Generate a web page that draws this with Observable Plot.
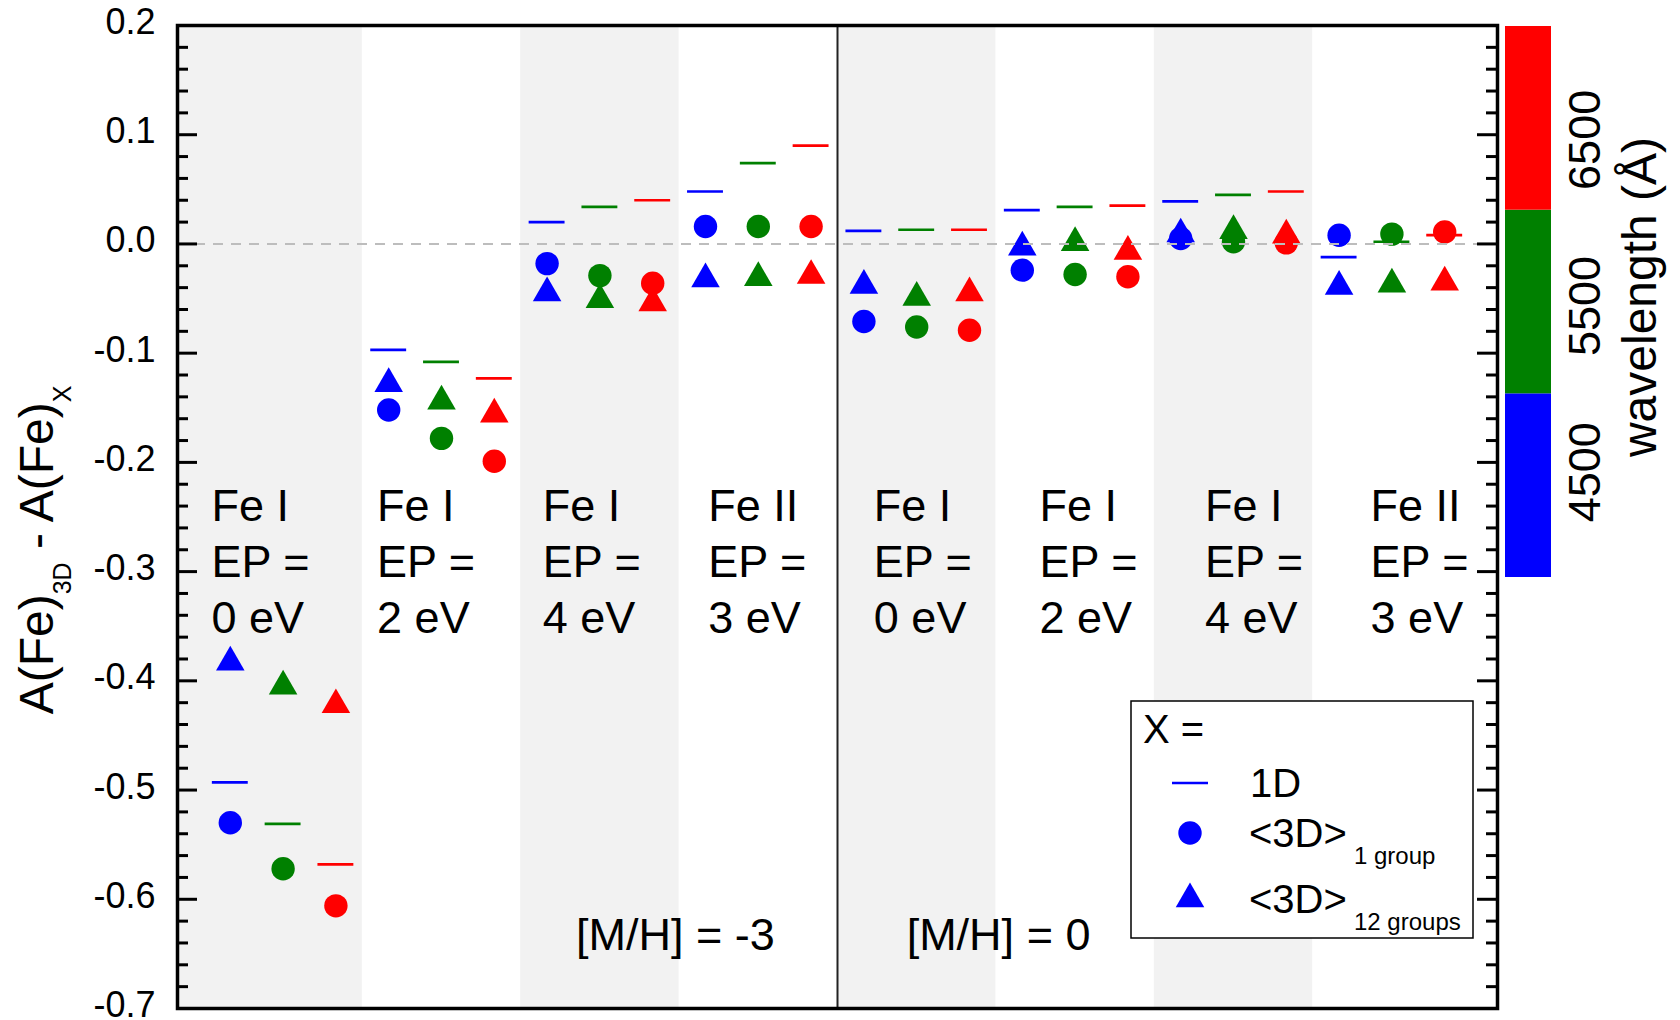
<!DOCTYPE html>
<html>
<head>
<meta charset="utf-8">
<script src="https://cdn.jsdelivr.net/npm/d3@7"></script>
<script src="https://cdn.jsdelivr.net/npm/@observablehq/plot@0.6"></script>
<style>
  body { margin: 0; background: #fff; }
  svg { display: block; }
</style>
</head>
<body>
<div id="chart"></div>
<script>
// Line groups: ion and excitation potential, four per metallicity
const ions = ["Fe I", "Fe I", "Fe I", "Fe II", "Fe I", "Fe I", "Fe I", "Fe II"];
const excitation = [0, 2, 4, 3, 0, 2, 4, 3];
const metallicity = ["[M/H] = -3", "[M/H] = 0"];

// Wavelength bins (Å) and their colours
const wavelengths = [4500, 5500, 6500];
const binColors = ["#0000ff", "#008000", "#ff0000"];
const binEdges = [3870, 4975, 6080, 7185];

// A(Fe)_3D - A(Fe)_X, one row per group, one column per wavelength
const vs1D = [
  [-0.493, -0.531, -0.568],
  [-0.097, -0.108, -0.123],
  [0.020, 0.034, 0.040],
  [0.048, 0.074, 0.090],
  [0.012, 0.013, 0.013],
  [0.031, 0.034, 0.035],
  [0.039, 0.045, 0.048],
  [-0.012, 0.002, 0.008]
];
const vs3D1group = [
  [-0.530, -0.572, -0.606],
  [-0.152, -0.178, -0.199],
  [-0.018, -0.029, -0.036],
  [0.016, 0.016, 0.016],
  [-0.071, -0.076, -0.079],
  [-0.024, -0.028, -0.030],
  [0.005, 0.002, 0.001],
  [0.008, 0.009, 0.011]
];
const vs3D12groups = [
  [-0.383, -0.405, -0.422],
  [-0.128, -0.144, -0.156],
  [-0.045, -0.051, -0.054],
  [-0.032, -0.031, -0.029],
  [-0.038, -0.049, -0.045],
  [-0.003, 0.001, -0.007],
  [0.009, 0.012, 0.008],
  [-0.039, -0.037, -0.035]
];

// Y axis ticks
const yTicks = [0.2, 0.1, 0.0, -0.1, -0.2, -0.3, -0.4, -0.5, -0.6, -0.7];
const yTickLabels = ["0.2", "0.1", "0.0", "-0.1", "-0.2", "-0.3", "-0.4", "-0.5", "-0.6", "-0.7"];
const yMinorTicks = d3.range(-35, 11).filter(i => i % 5 !== 0).map(i => i / 50);

// Layout
const W = 1680, H = 1020;
const mL = 177, mR = 183, mT = 25, mB = 12;
const xMax = 25;
const pxPerUnit = (W - mL - mR) / xMax;
const majorLen = 20 / pxPerUnit, minorLen = 11 / pxPerUnit;
const FONT = "'Liberation Sans', Arial, Helvetica, sans-serif";

// Tidy table: each marker sits at its own slot, three slots per group
const points = [];
ions.forEach((ion, g) => wavelengths.forEach((w, k) => {
  points.push({
    g, w, pos: 3 * g + k + 1,
    oneD: vs1D[g][k], one: vs3D1group[g][k], twelve: vs3D12groups[g][k]
  });
}));

// Alternate shaded bands; the outer groups run to the frame edges
const bands = d3.range(ions.length).filter(g => g % 2 === 0).map(g => ({
  x1: g === 0 ? 0 : 3 * g + 0.5,
  x2: g === ions.length - 1 ? xMax : 3 * g + 3.5
}));

const groupLabels = ions.map((ion, g) => ({g, text: `${ion}\nEP =\n${excitation[g]} eV`}));
const mhLabels = [{x: 9.43, text: metallicity[0]}, {x: 15.55, text: metallicity[1]}];
const tickTable = yTicks.map((v, i) => ({v, label: yTickLabels[i]}));

const halfTick = 0.34;

const chart = Plot.plot({
  width: W, height: H,
  marginLeft: mL, marginRight: mR, marginTop: mT, marginBottom: mB,
  style: {fontFamily: FONT, background: "#fff", overflow: "visible"},
  x: {domain: [0, xMax], axis: null},
  y: {domain: [-0.7, 0.2], axis: null},
  color: {domain: wavelengths, range: binColors},
  marks: [
    Plot.rect(bands, {x1: "x1", x2: "x2", fill: "#f2f2f2"}),
    Plot.ruleX([3 * 4 + 0.5], {stroke: "#222", strokeWidth: 2}),
    // 1D comparison: short horizontal bars
    Plot.ruleY(points, {y: "oneD", x1: d => d.pos - halfTick, x2: d => d.pos + halfTick, stroke: "w", strokeWidth: 2.7}),
    // <3D> averaged over one group
    Plot.dot(points, {x: "pos", y: "one", r: 11.7, symbol: "circle", fill: "w"}),
    // <3D> averaged over twelve groups
    Plot.dot(points, {x: "pos", y: "twelve", r: 10.6, symbol: "triangle", fill: "w"}),
    Plot.ruleY([0], {stroke: "#bdbdbd", strokeWidth: 2, strokeDasharray: "10,8"}),
    // inward ticks on both sides
    Plot.ruleY(yTicks, {x1: 0, x2: majorLen, stroke: "#000", strokeWidth: 3}),
    Plot.ruleY(yMinorTicks, {x1: 0, x2: minorLen, stroke: "#000", strokeWidth: 3}),
    Plot.ruleY(yTicks, {x1: xMax - majorLen, x2: xMax, stroke: "#000", strokeWidth: 3}),
    Plot.ruleY(yMinorTicks, {x1: xMax - minorLen, x2: xMax, stroke: "#000", strokeWidth: 3}),
    Plot.text(tickTable, {y: "v", text: "label", frameAnchor: "left", textAnchor: "end", dx: -22, dy: -3, fontSize: 36, fill: "#000"}),
    Plot.frame({stroke: "#000", strokeWidth: 3.5}),
    Plot.text(groupLabels, {
      x: d => 0.644 + 3.136 * d.g, y: () => -0.217, text: "text",
      textAnchor: "start", lineAnchor: "top", lineHeight: 1.25, fontSize: 45, fill: "#000"
    }),
    Plot.text(mhLabels, {x: "x", y: () => -0.6465, text: "text", textAnchor: "middle", lineAnchor: "bottom", fontSize: 45, fill: "#000"})
  ]
});

document.getElementById("chart").appendChild(chart);

const svg = d3.select(chart);

// Y axis title with subscripts
const yTitle = svg.append("text")
  .attr("transform", "translate(53,550) rotate(-90)")
  .attr("text-anchor", "middle")
  .attr("font-family", FONT)
  .attr("font-size", 48)
  .attr("fill", "#000");
yTitle.append("tspan").text("A(Fe)");
yTitle.append("tspan").attr("font-size", 25).attr("dy", 18).text("3D");
yTitle.append("tspan").attr("dy", -18).text(" - A(Fe)");
yTitle.append("tspan").attr("font-size", 25).attr("dy", 18).text("X");

// Wavelength colour bar
const cbY = d3.scaleLinear().domain([binEdges[0], binEdges[3]]).range([577, 26]);
const cb = svg.append("g");
binColors.forEach((c, i) => {
  cb.append("rect")
    .attr("x", 1505).attr("width", 46)
    .attr("y", cbY(binEdges[i + 1])).attr("height", cbY(binEdges[i]) - cbY(binEdges[i + 1]))
    .attr("fill", c);
});
wavelengths.forEach(w => {
  cb.append("text")
    .attr("transform", `translate(1600,${cbY(w)}) rotate(-90)`)
    .attr("text-anchor", "middle")
    .attr("font-family", FONT).attr("font-size", 45).attr("fill", "#000")
    .text(w);
});
cb.append("text")
  .attr("transform", "translate(1656,297) rotate(-90)")
  .attr("text-anchor", "middle")
  .attr("font-family", FONT).attr("font-size", 48).attr("fill", "#000")
  .text("wavelength (Å)");

// Marker legend
const lg = svg.append("g").attr("font-family", FONT).attr("fill", "#000").attr("text-anchor", "start");
lg.append("rect").attr("x", 1131).attr("y", 701).attr("width", 342).attr("height", 237)
  .attr("fill", "#fff").attr("stroke", "#000").attr("stroke-width", 1.5);
lg.append("text").attr("x", 1143).attr("y", 743).attr("font-size", 40).text("X =");
lg.append("line").attr("x1", 1172).attr("x2", 1208).attr("y1", 783).attr("y2", 783)
  .attr("stroke", binColors[0]).attr("stroke-width", 2.7);
lg.append("text").attr("x", 1250).attr("y", 797).attr("font-size", 40).text("1D");
lg.append("path").attr("transform", "translate(1190,833)")
  .attr("d", d3.symbol(d3.symbolCircle, Math.PI * 11.7 * 11.7)()).attr("fill", binColors[0]);
const t1 = lg.append("text").attr("x", 1249).attr("y", 847).attr("font-size", 40);
t1.append("tspan").text("<3D>");
t1.append("tspan").attr("x", 1354).attr("y", 864).attr("font-size", 24).text("1 group");
lg.append("path").attr("transform", "translate(1190,899)")
  .attr("d", d3.symbol(d3.symbolTriangle, Math.PI * 10.6 * 10.6)()).attr("fill", binColors[0]);
const t2 = lg.append("text").attr("x", 1249).attr("y", 913).attr("font-size", 40);
t2.append("tspan").text("<3D>");
t2.append("tspan").attr("x", 1354).attr("y", 930).attr("font-size", 24).text("12 groups");
</script>
</body>
</html>
